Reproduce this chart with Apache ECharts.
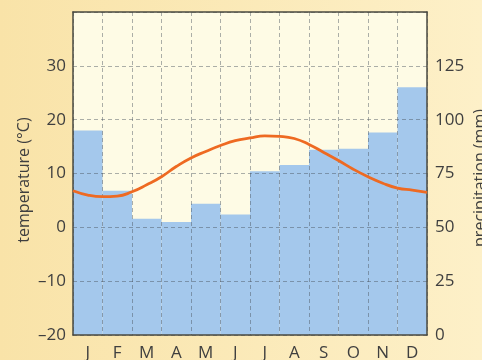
<!DOCTYPE html>
<html>
<head>
<meta charset="utf-8">
<script src="https://cdn.jsdelivr.net/npm/echarts@6/dist/echarts.min.js"></script>
<style>
html,body{margin:0;padding:0;}
#c{width:482px;height:360px;}
</style>
</head>
<body>
<div id="c"></div>
<script>
const months = ['J','F','M','A','M','J','J','A','S','O','N','D'];
const precipitation = [95, 67, 54, 52.5, 61, 56, 76, 79, 86, 86.5, 94, 115];
// temperature curve read at month centres
const temperature = [6.0, 5.8, 7.9, 11.3, 14.1, 16.1, 17.0, 16.5, 13.9, 10.8, 8.2, 6.9];
// temperature curve read at month boundaries (start of Jan ... end of Dec)
const tempAtBoundaries = [6.8, 5.7, 6.6, 9.4, 12.9, 15.2, 16.6, 16.9, 15.4, 12.4, 9.4, 7.3, 6.5];
const tempTicks = [-20, -10, 0, 10, 20, 30];
const precipTicks = [0, 25, 50, 75, 100, 125];

const lineData = [];
tempAtBoundaries.forEach((t, i) => {
  lineData.push([i, t]);
  if (i < temperature.length) lineData.push([i + 0.5, temperature[i]]);
});

const font = '"Open Sans", "Noto Sans", sans-serif';
const textColor = '#3f3f3f';
const frameColor = '#4a4a40';
const gridLine = { show: true, lineStyle: { color: 'rgba(70,80,90,0.45)', type: [4, 3], width: 1 } };

const chart = echarts.init(document.getElementById('c'));
chart.setOption({
  animation: false,
  backgroundColor: {
    type: 'linear', x: 0, y: 0, x2: 1, y2: 0,
    colorStops: [{ offset: 0, color: '#f9e3a8' }, { offset: 1, color: '#fdf0c8' }]
  },
  grid: {
    left: 73, right: 55, top: 12, bottom: 25,
    outerBoundsMode: 'none', containLabel: false,
    show: true, backgroundColor: '#fefbe5', borderColor: frameColor, borderWidth: 0
  },
  xAxis: [
    {
      type: 'category', data: months, boundaryGap: true, z: 5, position: 'bottom',
      axisLine: { show: true, onZero: false, lineStyle: { color: frameColor, width: 1.5 } },
      axisTick: { show: false },
      axisLabel: { color: textColor, fontSize: 17, fontFamily: font, margin: 10, interval: 0 },
      splitLine: gridLine
    },
    {
      type: 'value', min: 0, max: months.length, position: 'top', z: 5,
      axisLine: { show: true, onZero: false, lineStyle: { color: frameColor, width: 1.5 } },
      axisTick: { show: false }, axisLabel: { show: false }, splitLine: { show: false }
    }
  ],
  yAxis: [
    {
      type: 'value', min: -20, max: 40, interval: 10, z: 5,
      axisLine: { show: true, onZero: false, lineStyle: { color: frameColor, width: 1.5 } },
      axisTick: { show: false },
      axisLabel: {
        color: textColor, fontSize: 17, fontFamily: font, margin: 7,
        formatter: v => tempTicks.includes(v) ? String(v).replace('-', '\u2013') : ''
      },
      splitLine: gridLine
    },
    {
      type: 'value', min: 0, max: 150, interval: 25, z: 5,
      axisLine: { show: true, onZero: false, lineStyle: { color: frameColor, width: 1.5 } },
      axisTick: { show: false },
      axisLabel: {
        color: textColor, fontSize: 17, fontFamily: font, margin: 8,
        formatter: v => precipTicks.includes(v) ? String(v) : ''
      },
      splitLine: { show: false }
    }
  ],
  graphic: [
    {
      type: 'text', x: 24, y: 180, rotation: Math.PI / 2,
      style: { text: 'temperature (°C)', fill: textColor, font: '16px ' + font, align: 'center', verticalAlign: 'middle' }
    },
    {
      type: 'text', x: 480, y: 178, rotation: Math.PI / 2,
      style: { text: 'precipitation (mm)', fill: textColor, font: '16px ' + font, align: 'center', verticalAlign: 'middle' }
    }
  ],
  series: [
    {
      type: 'bar', data: precipitation, xAxisIndex: 0, yAxisIndex: 1,
      barWidth: '100%', barGap: '0%', z: 2,
      itemStyle: { color: '#a4c8ec' }
    },
    {
      type: 'line', data: lineData, xAxisIndex: 1, yAxisIndex: 0,
      smooth: 0.5, showSymbol: false, z: 10,
      lineStyle: { color: '#ee6a22', width: 2.8 }
    }
  ]
});
</script>
</body>
</html>
